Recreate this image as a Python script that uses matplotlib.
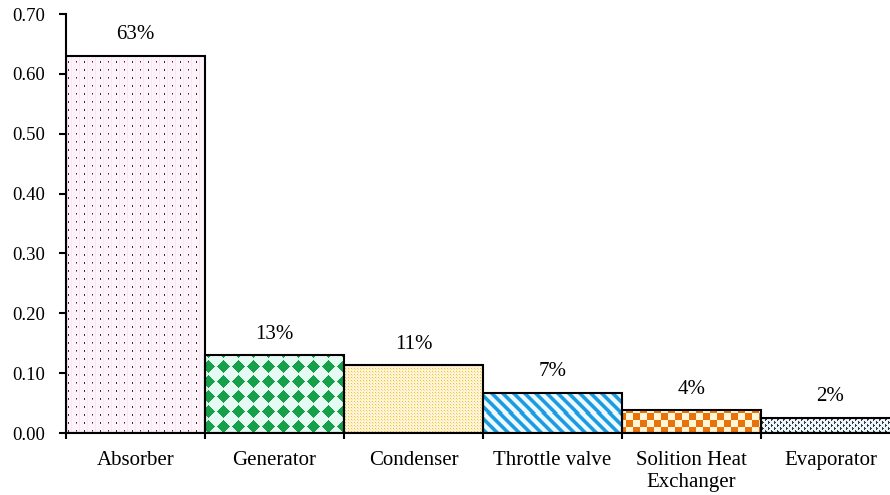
import numpy as np
import matplotlib
matplotlib.use("Agg")
import matplotlib.pyplot as plt
from matplotlib.colors import to_rgb

components = ["Absorber", "Generator", "Condenser", "Throttle valve",
              "Solition Heat\nExchanger", "Evaporator"]
shares = [0.63, 0.13, 0.113, 0.067, 0.038, 0.025]
yticks = [0.0, 0.1, 0.2, 0.3, 0.4, 0.5, 0.6, 0.7]

plt.rcParams["font.family"] = ["Liberation Serif", "DejaVu Serif"]


def fill(mask, fg, bg):
    img = np.empty(mask.shape + (3,))
    img[:] = to_rgb(bg)
    img[mask] = to_rgb(fg)
    return img


# pixel textures for each bar, xx/yy are pixel coordinates inside the axes
def dots_pink(xx, yy):
    img = fill(xx % 8 == 5, "#fbe6f2", "#fdf4f9")
    dot = (xx % 8 == 2) & (yy % 8 < 2)
    img[dot] = to_rgb("#3e2a36")
    img[dot & ((xx // 8) % 2 == 1) & (yy % 8 == 1)] = to_rgb("#d0608e")
    return img


def diamonds(xx, yy):
    p = 15
    u = xx % p - (p - 1) / 2
    v = yy % p - (p - 1) / 2
    return fill(np.abs(u) + np.abs(v) < p / 2 - 0.5, "#15a049", "#e4faf3")


def dots_yellow(xx, yy):
    img = fill((xx % 3 == 0) & (yy % 3 == 0), "#efc431", "#fff4d8")
    img[(xx % 3 == 1) & (yy % 3 == 1)] = to_rgb("#f7e2a0")
    return img


def stripes(xx, yy):
    d = (xx - yy) % 11
    img = fill(d < 4, "#1c9be0", "#eefaff")
    img[(d == 4) | (d == 10)] = to_rgb("#7cc8ef")
    return img


def checker(xx, yy):
    return fill(((xx // 7) + (yy // 7)) % 2 == 0, "#e8720c", "#fff6d6")


def weave(xx, yy):
    m = ((xx + yy) % 6 < 2) & (((xx // 3) + (yy // 3)) % 2 == 0)
    m |= ((xx - yy) % 6 < 2) & (((xx // 3) + (yy // 3)) % 2 == 1)
    return fill(m, "#2e3c48", "#eef6fa")


textures = [dots_pink, diamonds, dots_yellow, stripes, checker, weave]

fig = plt.figure(figsize=(8.9, 4.95), dpi=100)
ax = fig.add_axes([66 / 890, 62 / 495, 834 / 890, 419 / 495])

x = np.arange(len(components))
bars = ax.bar(x, shares, width=1.0, facecolor="none", edgecolor="black",
              linewidth=1.5, zorder=3)
ax.set_xlim(-0.5, 5.5)
ax.set_ylim(0, 0.7)

# paint each bar with its texture at screen resolution
for bar, tex in zip(bars, textures):
    x0, w, h = bar.get_x(), bar.get_width(), bar.get_height()
    (px0, py0), (px1, py1) = ax.transData.transform([(x0, 0), (x0 + w, h)])
    ox, oy = ax.transData.transform((-0.5, 0.7))
    wp, hp = int(round(px1 - px0)), max(int(round(py1 - py0)), 1)
    xx, yy = np.meshgrid(np.arange(wp) + int(round(px0 - ox)),
                         np.arange(hp) + int(round(oy - py1)))
    ax.imshow(tex(xx, yy), extent=(x0, x0 + w, 0, h), origin="upper",
              aspect="auto", interpolation="nearest", zorder=2)

ax.set_xlim(-0.5, 5.5)
ax.set_ylim(0, 0.7)

for bar, v in zip(bars, shares):
    ax.annotate(f"{v * 100:.0f}%", (bar.get_x() + bar.get_width() / 2, v),
                xytext=(0, 12), textcoords="offset points",
                ha="center", va="baseline", fontsize=15)

ax.set_xticks(x)
ax.set_xticklabels(components, fontsize=15)
ax.set_xticks(np.arange(-0.5, 6.0, 1.0), minor=True)
ax.tick_params(axis="x", which="major", length=0, pad=13)
ax.tick_params(axis="x", which="minor", length=4, width=1.5, direction="out")

ax.set_yticks(yticks)
ax.set_yticklabels([f"{t:.2f}" for t in yticks], fontsize=13.5)
ax.tick_params(axis="y", length=5, width=1.5, pad=10)

for side in ["top", "right"]:
    ax.spines[side].set_visible(False)
for side in ["left", "bottom"]:
    ax.spines[side].set_linewidth(1.5)
ax.spines["bottom"].set_zorder(4)

fig.savefig("out.png", dpi=100)
